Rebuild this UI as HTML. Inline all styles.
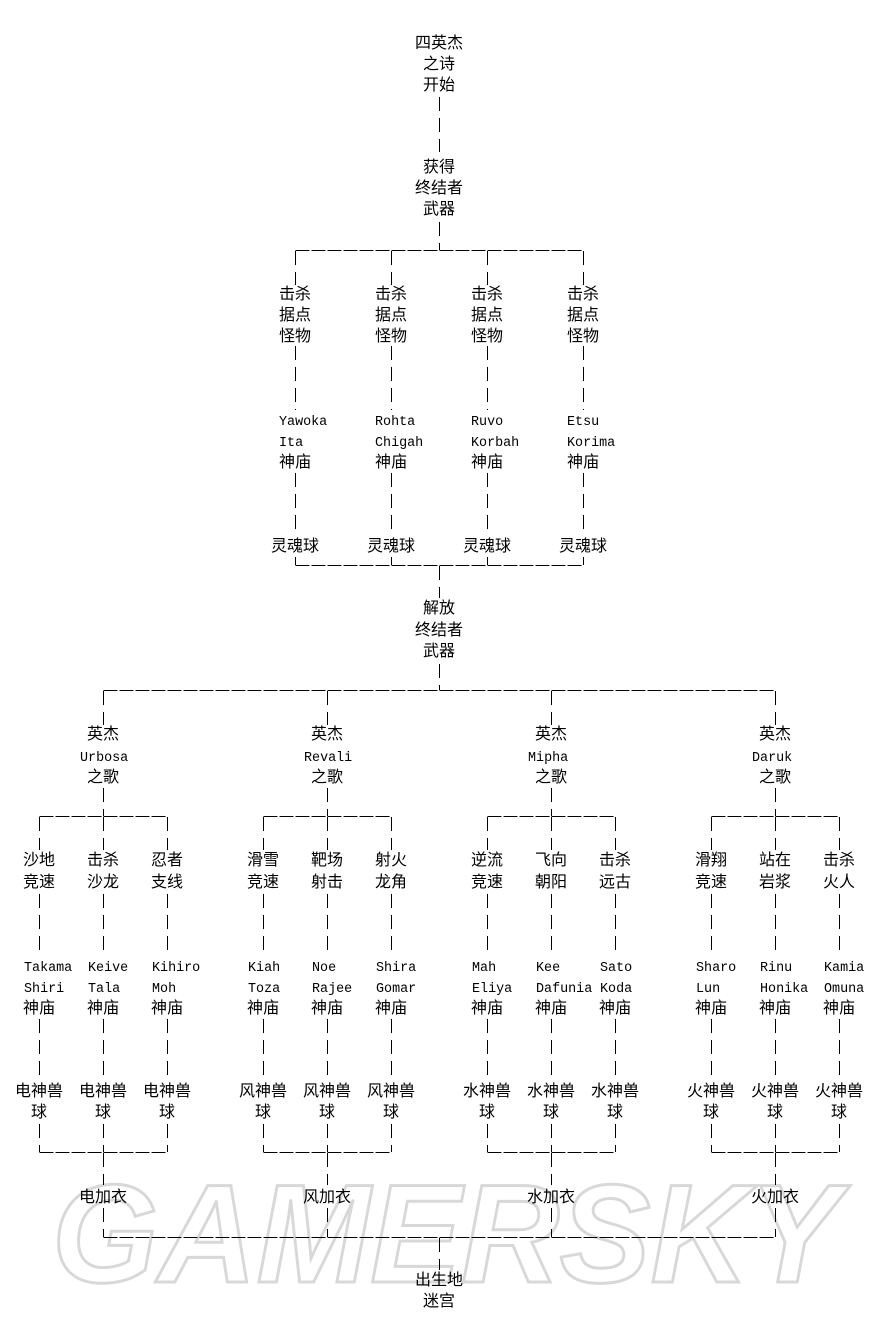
<!DOCTYPE html>
<html><head><meta charset="utf-8"><style>
html,body{margin:0;padding:0;background:#fff;}
svg{display:block;}
.c{font-family:"Liberation Sans","Noto Sans CJK SC","WenQuanYi Zen Hei",sans-serif;font-size:16px;fill:#000;text-anchor:middle;}
.l{font-family:"Liberation Mono","Courier New",monospace;font-size:13.4px;fill:#000;}
.v{stroke:#000;stroke-width:1;stroke-dasharray:14,7;fill:none;}
.h{stroke:#000;stroke-width:1;stroke-dasharray:14,2;fill:none;}
</style></head><body>
<svg width="880" height="1340" viewBox="0 0 880 1340" xmlns="http://www.w3.org/2000/svg">
<text x="52" y="1282" font-family="Liberation Sans, sans-serif" font-size="140" font-weight="bold" font-style="italic" fill="none" stroke="#d8d8d8" stroke-width="3" textLength="788" lengthAdjust="spacingAndGlyphs">GAMERSKY</text>

<text class="c" x="439" y="48">四英杰</text>
<text class="c" x="439" y="69">之诗</text>
<text class="c" x="439" y="90">开始</text>
<line class="v" x1="439.5" y1="97" x2="439.5" y2="152"/>
<text class="c" x="439" y="172">获得</text>
<text class="c" x="439" y="193">终结者</text>
<text class="c" x="439" y="214">武器</text>
<line class="v" x1="439.5" y1="222" x2="439.5" y2="250"/>
<line class="h" x1="295.5" y1="250.5" x2="583.5" y2="250.5"/>

<g>
<line class="v" x1="295.5" y1="251" x2="295.5" y2="285"/><line class="v" x1="391.5" y1="251" x2="391.5" y2="285"/><line class="v" x1="487.5" y1="251" x2="487.5" y2="285"/><line class="v" x1="583.5" y1="251" x2="583.5" y2="285"/>
<line class="v" x1="295.5" y1="346" x2="295.5" y2="410"/><line class="v" x1="391.5" y1="346" x2="391.5" y2="410"/><line class="v" x1="487.5" y1="346" x2="487.5" y2="410"/><line class="v" x1="583.5" y1="346" x2="583.5" y2="410"/>
<line class="v" x1="295.5" y1="473" x2="295.5" y2="536"/><line class="v" x1="391.5" y1="473" x2="391.5" y2="536"/><line class="v" x1="487.5" y1="473" x2="487.5" y2="536"/><line class="v" x1="583.5" y1="473" x2="583.5" y2="536"/>
<line class="v" x1="295.5" y1="557" x2="295.5" y2="565"/><line class="v" x1="391.5" y1="557" x2="391.5" y2="565"/><line class="v" x1="487.5" y1="557" x2="487.5" y2="565"/><line class="v" x1="583.5" y1="557" x2="583.5" y2="565"/>
</g>
<text class="c" x="295" y="299">击杀</text><text class="c" x="391" y="299">击杀</text><text class="c" x="487" y="299">击杀</text><text class="c" x="583" y="299">击杀</text>
<text class="c" x="295" y="320">据点</text><text class="c" x="391" y="320">据点</text><text class="c" x="487" y="320">据点</text><text class="c" x="583" y="320">据点</text>
<text class="c" x="295" y="341">怪物</text><text class="c" x="391" y="341">怪物</text><text class="c" x="487" y="341">怪物</text><text class="c" x="583" y="341">怪物</text>
<text class="l" x="279" y="425">Yawoka</text><text class="l" x="375" y="425">Rohta</text><text class="l" x="471" y="425">Ruvo</text><text class="l" x="567" y="425">Etsu</text>
<text class="l" x="279" y="446">Ita</text><text class="l" x="375" y="446">Chigah</text><text class="l" x="471" y="446">Korbah</text><text class="l" x="567" y="446">Korima</text>
<text class="c" x="295" y="467">神庙</text><text class="c" x="391" y="467">神庙</text><text class="c" x="487" y="467">神庙</text><text class="c" x="583" y="467">神庙</text>
<text class="c" x="295" y="551">灵魂球</text><text class="c" x="391" y="551">灵魂球</text><text class="c" x="487" y="551">灵魂球</text><text class="c" x="583" y="551">灵魂球</text>
<line class="h" x1="295.5" y1="565.5" x2="583.5" y2="565.5"/>
<line class="v" x1="439.5" y1="566" x2="439.5" y2="598"/>
<text class="c" x="439" y="613">解放</text>
<text class="c" x="439" y="635">终结者</text>
<text class="c" x="439" y="656">武器</text>
<line class="v" x1="439.5" y1="664" x2="439.5" y2="690"/>
<line class="h" x1="103.5" y1="690.5" x2="775.5" y2="690.5"/>

<g>
<line class="v" x1="103.5" y1="691" x2="103.5" y2="725"/><line class="v" x1="327.5" y1="691" x2="327.5" y2="725"/><line class="v" x1="551.5" y1="691" x2="551.5" y2="725"/><line class="v" x1="775.5" y1="691" x2="775.5" y2="725"/>
<line class="v" x1="103.5" y1="788" x2="103.5" y2="816"/><line class="v" x1="327.5" y1="788" x2="327.5" y2="816"/><line class="v" x1="551.5" y1="788" x2="551.5" y2="816"/><line class="v" x1="775.5" y1="788" x2="775.5" y2="816"/>
</g>
<text class="c" x="103" y="739">英杰</text><text class="c" x="327" y="739">英杰</text><text class="c" x="551" y="739">英杰</text><text class="c" x="775" y="739">英杰</text>
<text class="l" x="80" y="761">Urbosa</text><text class="l" x="304" y="761">Revali</text><text class="l" x="528" y="761">Mipha</text><text class="l" x="752" y="761">Daruk</text>
<text class="c" x="103" y="782">之歌</text><text class="c" x="327" y="782">之歌</text><text class="c" x="551" y="782">之歌</text><text class="c" x="775" y="782">之歌</text>

<line class="h" x1="39.5" y1="816.5" x2="167.5" y2="816.5"/>
<line class="h" x1="263.5" y1="816.5" x2="391.5" y2="816.5"/>
<line class="h" x1="487.5" y1="816.5" x2="615.5" y2="816.5"/>
<line class="h" x1="711.5" y1="816.5" x2="839.5" y2="816.5"/>

<g stroke="#000" stroke-width="1" stroke-dasharray="14,7" fill="none">
<path d="M39.5 817V850M103.5 817V850M167.5 817V850M263.5 817V850M327.5 817V850M391.5 817V850M487.5 817V850M551.5 817V850M615.5 817V850M711.5 817V850M775.5 817V850M839.5 817V850"/>
<path d="M39.5 894V956M103.5 894V956M167.5 894V956M263.5 894V956M327.5 894V956M391.5 894V956M487.5 894V956M551.5 894V956M615.5 894V956M711.5 894V956M775.5 894V956M839.5 894V956"/>
<path d="M39.5 1019V1081M103.5 1019V1081M167.5 1019V1081M263.5 1019V1081M327.5 1019V1081M391.5 1019V1081M487.5 1019V1081M551.5 1019V1081M615.5 1019V1081M711.5 1019V1081M775.5 1019V1081M839.5 1019V1081"/>
<path d="M39.5 1124V1152M103.5 1124V1152M167.5 1124V1152M263.5 1124V1152M327.5 1124V1152M391.5 1124V1152M487.5 1124V1152M551.5 1124V1152M615.5 1124V1152M711.5 1124V1152M775.5 1124V1152M839.5 1124V1152"/>
<path d="M103.5 1153V1185M327.5 1153V1185M551.5 1153V1185M775.5 1153V1185"/>
<path d="M103.5 1208V1237M327.5 1208V1237M551.5 1208V1237M775.5 1208V1237"/>
<path d="M439.5 1238V1270"/>
</g>

<text class="c" x="39" y="865">沙地</text><text class="c" x="103" y="865">击杀</text><text class="c" x="167" y="865">忍者</text>
<text class="c" x="263" y="865">滑雪</text><text class="c" x="327" y="865">靶场</text><text class="c" x="391" y="865">射火</text>
<text class="c" x="487" y="865">逆流</text><text class="c" x="551" y="865">飞向</text><text class="c" x="615" y="865">击杀</text>
<text class="c" x="711" y="865">滑翔</text><text class="c" x="775" y="865">站在</text><text class="c" x="839" y="865">击杀</text>

<text class="c" x="39" y="887">竞速</text><text class="c" x="103" y="887">沙龙</text><text class="c" x="167" y="887">支线</text>
<text class="c" x="263" y="887">竞速</text><text class="c" x="327" y="887">射击</text><text class="c" x="391" y="887">龙角</text>
<text class="c" x="487" y="887">竞速</text><text class="c" x="551" y="887">朝阳</text><text class="c" x="615" y="887">远古</text>
<text class="c" x="711" y="887">竞速</text><text class="c" x="775" y="887">岩浆</text><text class="c" x="839" y="887">火人</text>

<text class="l" x="24" y="971">Takama</text><text class="l" x="88" y="971">Keive</text><text class="l" x="152" y="971">Kihiro</text>
<text class="l" x="248" y="971">Kiah</text><text class="l" x="312" y="971">Noe</text><text class="l" x="376" y="971">Shira</text>
<text class="l" x="472" y="971">Mah</text><text class="l" x="536" y="971">Kee</text><text class="l" x="600" y="971">Sato</text>
<text class="l" x="696" y="971">Sharo</text><text class="l" x="760" y="971">Rinu</text><text class="l" x="824" y="971">Kamia</text>

<text class="l" x="24" y="992">Shiri</text><text class="l" x="88" y="992">Tala</text><text class="l" x="152" y="992">Moh</text>
<text class="l" x="248" y="992">Toza</text><text class="l" x="312" y="992">Rajee</text><text class="l" x="376" y="992">Gomar</text>
<text class="l" x="472" y="992">Eliya</text><text class="l" x="536" y="992">Dafunia</text><text class="l" x="600" y="992">Koda</text>
<text class="l" x="696" y="992">Lun</text><text class="l" x="760" y="992">Honika</text><text class="l" x="824" y="992">Omuna</text>

<text class="c" x="39" y="1013">神庙</text><text class="c" x="103" y="1013">神庙</text><text class="c" x="167" y="1013">神庙</text>
<text class="c" x="263" y="1013">神庙</text><text class="c" x="327" y="1013">神庙</text><text class="c" x="391" y="1013">神庙</text>
<text class="c" x="487" y="1013">神庙</text><text class="c" x="551" y="1013">神庙</text><text class="c" x="615" y="1013">神庙</text>
<text class="c" x="711" y="1013">神庙</text><text class="c" x="775" y="1013">神庙</text><text class="c" x="839" y="1013">神庙</text>

<text class="c" x="39" y="1096">电神兽</text><text class="c" x="103" y="1096">电神兽</text><text class="c" x="167" y="1096">电神兽</text>
<text class="c" x="263" y="1096">风神兽</text><text class="c" x="327" y="1096">风神兽</text><text class="c" x="391" y="1096">风神兽</text>
<text class="c" x="487" y="1096">水神兽</text><text class="c" x="551" y="1096">水神兽</text><text class="c" x="615" y="1096">水神兽</text>
<text class="c" x="711" y="1096">火神兽</text><text class="c" x="775" y="1096">火神兽</text><text class="c" x="839" y="1096">火神兽</text>

<text class="c" x="39" y="1117">球</text><text class="c" x="103" y="1117">球</text><text class="c" x="167" y="1117">球</text>
<text class="c" x="263" y="1117">球</text><text class="c" x="327" y="1117">球</text><text class="c" x="391" y="1117">球</text>
<text class="c" x="487" y="1117">球</text><text class="c" x="551" y="1117">球</text><text class="c" x="615" y="1117">球</text>
<text class="c" x="711" y="1117">球</text><text class="c" x="775" y="1117">球</text><text class="c" x="839" y="1117">球</text>

<line class="h" x1="39.5" y1="1152.5" x2="167.5" y2="1152.5"/>
<line class="h" x1="263.5" y1="1152.5" x2="391.5" y2="1152.5"/>
<line class="h" x1="487.5" y1="1152.5" x2="615.5" y2="1152.5"/>
<line class="h" x1="711.5" y1="1152.5" x2="839.5" y2="1152.5"/>

<text class="c" x="103" y="1202">电加衣</text><text class="c" x="327" y="1202">风加衣</text><text class="c" x="551" y="1202">水加衣</text><text class="c" x="775" y="1202">火加衣</text>

<line class="h" x1="103.5" y1="1237.5" x2="775.5" y2="1237.5"/>
<text class="c" x="439" y="1285">出生地</text>
<text class="c" x="439" y="1306">迷宫</text>
</svg>
</body></html>
